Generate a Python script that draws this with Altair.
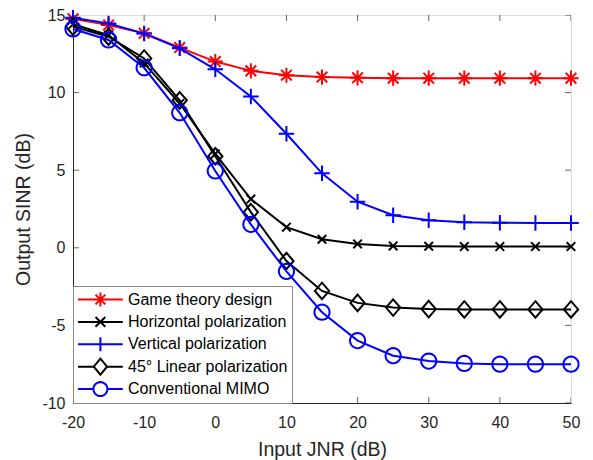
import math
import altair as alt
import pandas as pd

# ---- data ----
jnr = [-20, -15, -10, -5, 0, 5, 10, 15, 20, 25, 30, 35, 40, 45, 50]
game_theory = [14.75, 14.35, 13.82, 12.9, 12.0, 11.4, 11.12, 11.0, 10.95, 10.93, 10.93, 10.93, 10.93, 10.93, 10.93]
horizontal = [14.4, 13.7, 11.9, 9.3, 6.05, 3.14, 1.33, 0.55, 0.25, 0.12, 0.1, 0.08, 0.08, 0.08, 0.08]
vertical = [14.82, 14.46, 13.8, 12.85, 11.5, 9.75, 7.35, 4.8, 2.97, 2.1, 1.78, 1.65, 1.62, 1.6, 1.6]
linear45 = [14.25, 13.6, 12.2, 9.5, 5.9, 2.3, -0.85, -2.78, -3.55, -3.85, -3.95, -3.97, -3.97, -3.97, -3.97]
mimo = [14.1, 13.39, 11.6, 8.7, 4.95, 1.51, -1.52, -4.15, -5.98, -6.95, -7.3, -7.45, -7.5, -7.5, -7.5]

series_names = ["Game theory design", "Horizontal polarization", "Vertical polarization",
                "45° Linear polarization", "Conventional MIMO"]
series_values = [game_theory, horizontal, vertical, linear45, mimo]
series_colors = ["#ff0000", "#000000", "#0000ff", "#000000", "#0000ff"]

x_ticks = [-20, -10, 0, 10, 20, 30, 40, 50]
y_ticks = [-10, -5, 0, 5, 10, 15]


def ring(cx, r=1.0, n=28):
    pts = [(cx + r * math.cos(2 * math.pi * k / n), r * math.sin(2 * math.pi * k / n)) for k in range(n)]
    return "M" + "L".join(f"{x:.3f},{y:.3f}" for x, y in pts) + "Z"


# marker shapes (SVG paths, unit scale)
ASTER = "M0,-1L0,1M-1,0L1,0M-0.7,-0.7L0.7,0.7M-0.7,0.7L0.7,-0.7"
XMARK = "M-0.7,-0.7L0.7,0.7M-0.7,0.7L0.7,-0.7"
PLUS = "M0,-1L0,1M-1,0L1,0"
DIAM = "M0,-1.1L0.95,0L0,1.1L-0.95,0Z"
CIRC = ring(0.0)
marker_paths = [ASTER, XMARK, PLUS, DIAM, CIRC]
marker_sizes = [230, 150, 240, 225, 230]

# legend symbols: line sample + marker, shifted right so the sample starts at the nominal left edge
legend_paths = [
    "M-1,0L5.4,0M2.2,-1L2.2,1M1.5,-0.7L2.9,0.7M1.5,0.7L2.9,-0.7",
    "M-1,0L5.4,0M1.5,-0.7L2.9,0.7M1.5,0.7L2.9,-0.7",
    "M-1,0L5.4,0M2.2,-1L2.2,1",
    "M-1,0L1.25,0M3.15,0L5.4,0M2.2,-1.15L3.15,0L2.2,1.15L1.25,0Z",
    "M-1,0L1.2,0M3.2,0L5.4,0" + ring(2.2),
]

FONT = "Liberation Sans"
AX = "#262626"
FIX_MINUS = "replace(datum.label, '\u2212', '-')"

rows = []
for name, vals in zip(series_names, series_values):
    for xv, yv in zip(jnr, vals):
        rows.append({"series": name, "jnr": xv, "sinr": yv})
df = pd.DataFrame(rows)

xscale = alt.Scale(domain=[-20, 50], nice=False, zero=False, padding=0)
yscale = alt.Scale(domain=[-10, 15], nice=False, zero=False, padding=0)

axis_common = dict(grid=False, tickSize=0, domainColor=AX, labelColor=AX,
                   titleColor=AX, labelFontSize=16, titleFontSize=19.5, titleFontWeight="normal",
                   labelFont=FONT, titleFont=FONT, labelExpr=FIX_MINUS, labelFlush=False)
x_enc = alt.X("jnr:Q", scale=xscale,
              axis=alt.Axis(title="Input JNR (dB)", values=x_ticks, labelPadding=11,
                            titlePadding=10, **axis_common))
y_enc = alt.Y("sinr:Q", scale=yscale,
              axis=alt.Axis(title="Output SINR (dB)", values=y_ticks, labelPadding=8,
                            titlePadding=8, **axis_common))

layers = []
for name, col, path, sz in zip(series_names, series_colors, marker_paths, marker_sizes):
    sub = df[df["series"] == name]
    base = alt.Chart(sub)
    layers.append(base.mark_line(color=col, strokeWidth=2).encode(x=x_enc, y=y_enc))
    layers.append(base.mark_point(shape=path, color=col, filled=False, strokeWidth=2,
                                  size=sz, opacity=1).encode(x=x_enc, y=y_enc))

legend_def = alt.Legend(title=None, orient="bottom-left", offset=0,
                        symbolOpacity=1, symbolStrokeWidth=2, symbolSize=196,
                        symbolFillColor="transparent",
                        labelFont=FONT, labelFontSize=16, labelColor="#000000",
                        labelOffset=35, rowPadding=3.4, padding=4, clipHeight=19,
                        strokeColor="#888888", fillColor="#ffffff",
                        labelLimit=300)
legend_layer = alt.Chart(df).mark_point(opacity=0, filled=False, strokeWidth=2).encode(
    x=x_enc, y=y_enc,
    color=alt.Color("series:N", sort=series_names,
                    scale=alt.Scale(domain=series_names, range=series_colors),
                    legend=legend_def),
    shape=alt.Shape("series:N", sort=series_names,
                    scale=alt.Scale(domain=series_names, range=legend_paths),
                    legend=legend_def),
)
layers.append(legend_layer)

# inward ticks (clipped so only the inner half shows)
xt = pd.DataFrame({"jnr": x_ticks})
yt = pd.DataFrame({"sinr": y_ticks})
tick_style = dict(color=AX, thickness=1, size=12, clip=True)
layers.append(alt.Chart(xt).mark_tick(orient="vertical", **tick_style).encode(
    x=alt.X("jnr:Q", scale=xscale), y=alt.datum(-10, scale=yscale)))
layers.append(alt.Chart(xt).mark_tick(orient="vertical", **tick_style).encode(
    x=alt.X("jnr:Q", scale=xscale), y=alt.datum(15, scale=yscale)))
layers.append(alt.Chart(yt).mark_tick(orient="horizontal", **tick_style).encode(
    y=alt.Y("sinr:Q", scale=yscale), x=alt.datum(-20, scale=xscale)))
layers.append(alt.Chart(yt).mark_tick(orient="horizontal", **tick_style).encode(
    y=alt.Y("sinr:Q", scale=yscale), x=alt.datum(50, scale=xscale)))

chart = alt.layer(*layers).properties(
    width=498, height=388,
    autosize=alt.AutoSizeParams(type="none"),
    padding={"left": 65, "top": 7, "right": 14, "bottom": 57},
).configure_view(stroke=AX, strokeWidth=1).configure(background="white")

chart.save("out.html", embed_options={"renderer": "svg", "actions": False})
